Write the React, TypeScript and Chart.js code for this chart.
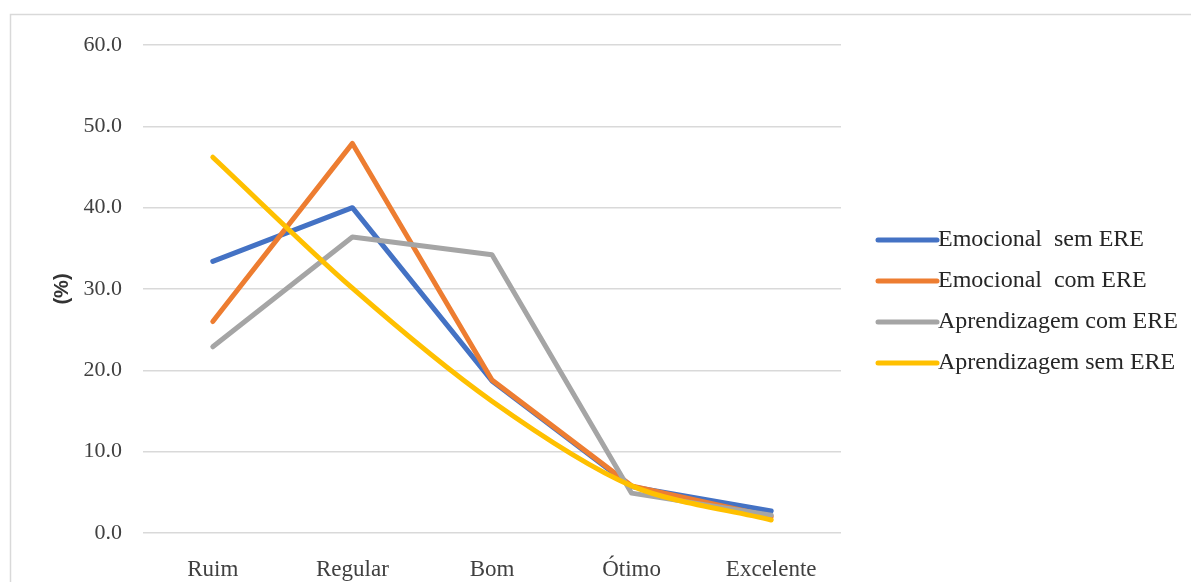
import React, { useEffect, useRef } from "react";
import { Chart, registerables } from "chart.js";

Chart.register(...registerables);

// Categories on the x axis
const categories = ["Ruim", "Regular", "Bom", "Ótimo", "Excelente"];

// Series values (%)
const emocionalSemERE = [33.4, 40.0, 18.7, 5.7, 2.7];
const emocionalComERE = [26.0, 47.9, 18.8, 5.8, 2.0];
const aprendizagemComERE = [22.9, 36.4, 34.2, 4.9, 2.2];
const aprendizagemSemERE = [46.2, 30.1, 16.2, 5.8, 1.6];

const seriesNames = [
  "Emocional  sem ERE",
  "Emocional  com ERE",
  "Aprendizagem com ERE",
  "Aprendizagem sem ERE",
];

// Y axis ticks
const yMin = 0;
const yMax = 60;
const yStep = 10;

const COLORS = ["#4472C4", "#ED7D31", "#A5A5A5", "#FFC000"];
const SERIF = "'Liberation Serif', 'Times New Roman', serif";
const SANS = "'Liberation Sans', Arial, sans-serif";

// Outer frame and white background
const framePlugin = {
  id: "frame",
  beforeDraw(chart: any) {
    const { ctx, width, height } = chart;
    ctx.save();
    ctx.fillStyle = "#ffffff";
    ctx.fillRect(0, 0, width, height);
    ctx.strokeStyle = "#d9d9d9";
    ctx.lineWidth = 1.5;
    ctx.strokeRect(10.5, 14.5, width + 20, height + 20);
    ctx.restore();
  },
};

// Legend drawn to the right of the plot, in series order
const sideLegendPlugin = {
  id: "sideLegend",
  afterDraw(chart: any) {
    const { ctx } = chart;
    const x0 = 878;
    const x1 = 937;
    const yStart = 240;
    const rowGap = 41;
    ctx.save();
    ctx.font = `24px ${SERIF}`;
    ctx.textBaseline = "middle";
    ctx.textAlign = "left";
    chart.data.datasets.forEach((ds: any, i: number) => {
      const y = yStart + i * rowGap;
      ctx.strokeStyle = ds.borderColor;
      ctx.lineWidth = 5;
      ctx.lineCap = "round";
      ctx.beginPath();
      ctx.moveTo(x0, y);
      ctx.lineTo(x1, y);
      ctx.stroke();
      ctx.fillStyle = "#262626";
      ctx.fillText(ds.label, x1 + 1, y);
    });
    ctx.restore();
  },
};

export default function App() {
  const canvasRef = useRef<HTMLCanvasElement | null>(null);

  useEffect(() => {
    const canvas = canvasRef.current;
    if (!canvas) return;
    const seriesValues = [
      emocionalSemERE,
      emocionalComERE,
      aprendizagemComERE,
      aprendizagemSemERE,
    ];
    const chart = new Chart(canvas, {
      type: "line",
      data: {
        labels: categories,
        datasets: seriesValues.map((values, i) => ({
          label: seriesNames[i],
          data: values,
          borderColor: COLORS[i],
          backgroundColor: COLORS[i],
          borderWidth: 5,
          pointRadius: 0,
          pointHoverRadius: 0,
          fill: false,
          tension: i === 3 ? 0.3 : 0,
          order: seriesValues.length - 1 - i,
          borderJoinStyle: "round" as const,
          borderCapStyle: "round" as const,
        })),
      },
      options: {
        responsive: false,
        animation: false,
        devicePixelRatio: 1,
        layout: { padding: { left: 10, top: 45, right: 350, bottom: 0 } },
        plugins: {
          legend: { display: false },
          tooltip: { enabled: false },
        },
        scales: {
          x: {
            offset: true,
            grid: { display: false },
            border: { display: false },
            ticks: {
              color: "#404040",
              padding: 15,
              font: { family: SERIF, size: 23 },
            },
            afterFit(scale: any) {
              scale.height = 49;
            },
          },
          y: {
            min: yMin,
            max: yMax,
            grid: { color: "#d9d9d9", lineWidth: 1.5, drawTicks: false },
            border: { display: false },
            ticks: {
              stepSize: yStep,
              color: "#404040",
              padding: 21,
              font: { family: SERIF, size: 22 },
              callback: (v: any) => Number(v).toFixed(1),
            },
            title: {
              display: true,
              text: "(%)",
              color: "#333333",
              font: { family: SANS, size: 20, weight: "bold" },
              padding: { top: 40, bottom: 0 },
            },
            afterFit(scale: any) {
              scale.width = 133;
            },
          },
        },
      },
      plugins: [framePlugin, sideLegendPlugin],
    });
    return () => chart.destroy();
  }, []);

  return (
    <div style={{ position: "fixed", left: 0, top: 0, width: 1191, height: 582, background: "#fff" }}>
      <canvas ref={canvasRef} width={1191} height={582} style={{ display: "block" }} />
    </div>
  );
}
